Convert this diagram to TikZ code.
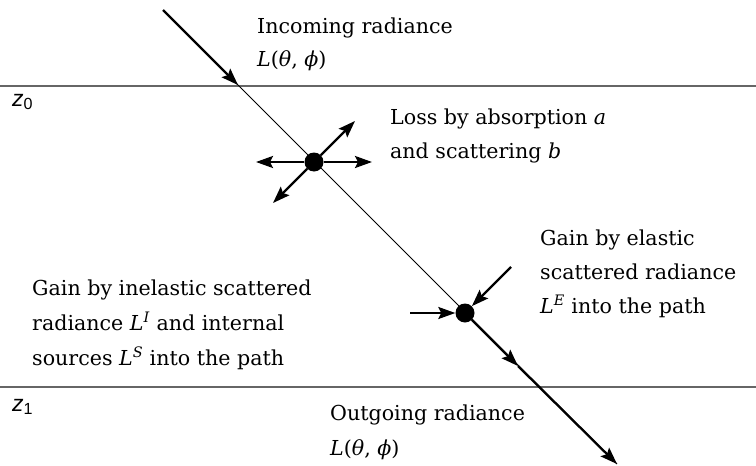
\documentclass[tikz,border=0pt]{standalone}
\usepackage{fontspec}
\setmainfont{DejaVu Serif}
\newfontfamily\zfont{Liberation Sans}
\usetikzlibrary{arrows.meta}
\begin{document}
\begin{tikzpicture}[x=1pt,y=-1pt,
  lbl/.style={anchor=base west, inner sep=0pt, font=\fontsize{20.6}{24}\selectfont},
  zlbl/.style={anchor=base west, inner sep=0pt, font=\zfont\fontsize{23}{26}\selectfont},
  level/.style={draw=black!60, line width=1.2pt},
  ray/.style={draw=black, line width=0.9pt},
  flux/.style={draw=black, line width=2.3pt, -{Stealth[length=17pt,width=12pt,inset=3pt]}},
  dot/.style={circle, fill=black, inner sep=0pt, minimum size=19pt},
]
\useasboundingbox (0,0) rectangle (756,466);
% levels
\coordinate (l0) at (0,86);   \coordinate (r0) at (756,86);
\coordinate (l1) at (0,387);  \coordinate (r1) at (756,387);
\draw[level] (l0) -- (r0);
\draw[level] (l1) -- (r1);
% main ray
\coordinate (s) at (163,10);
\coordinate (a1) at (238,85);
\coordinate (m) at (518,366);
\coordinate (e) at (617,464);
\node[dot] (d1) at (314,162) {};
\node[dot] (d2) at (465,313) {};
\draw[ray] (s) -- (e);
\draw[flux] (s) -- (a1);
% losses
\coordinate (d1l) at (256,162);
\coordinate (d1r) at (372,162);
\coordinate (d1ur) at (355,121);
\coordinate (d1dl) at (273,203);
\draw[flux] (d1) -- (d1l);
\draw[flux] (d1) -- (d1r);
\draw[flux] (d1) -- (d1ur);
\draw[flux] (d1) -- (d1dl);
% gains
\coordinate (h2) at (410,313);
\coordinate (q2) at (511,267);
\draw[flux] (h2) -- (d2);
\draw[flux] (q2) -- (d2);
\draw[flux] (d2) -- (m);
\draw[flux] (m) -- (e);
% labels
\node[zlbl] (z0) at (12,106) {\itshape z\textsubscript{\upshape 0}};
\node[zlbl] (z1) at (12,411) {\itshape z\textsubscript{\upshape 1}};
\node[lbl] (in1) at (257,33) {Incoming radiance};
\node[lbl] (in2) at (257,66) {\textit{L}(\textit{θ}, \textit{ϕ})};
\node[lbl] (lo1) at (390,124) {Loss by absorption \textit{a}};
\node[lbl] (lo2) at (390,158) {and scattering \textit{b}};
\node[lbl] (ge1) at (540,245) {Gain by elastic};
\node[lbl] (ge2) at (540,279) {scattered radiance};
\node[lbl] (ge3) at (540,313) {\textit{L}\textsuperscript{\textit{E}} into the path};
\node[lbl] (gi1) at (32,295) {Gain by inelastic scattered};
\node[lbl] (gi2) at (32,330) {radiance \textit{L}\textsuperscript{\textit{I}} and internal};
\node[lbl] (gi3) at (32,365) {sources \textit{L}\textsuperscript{\textit{S}} into the path};
\node[lbl] (ou1) at (330,420) {Outgoing radiance};
\node[lbl] (ou2) at (330,455) {\textit{L}(\textit{θ}, \textit{ϕ})};
\end{tikzpicture}
\end{document}
